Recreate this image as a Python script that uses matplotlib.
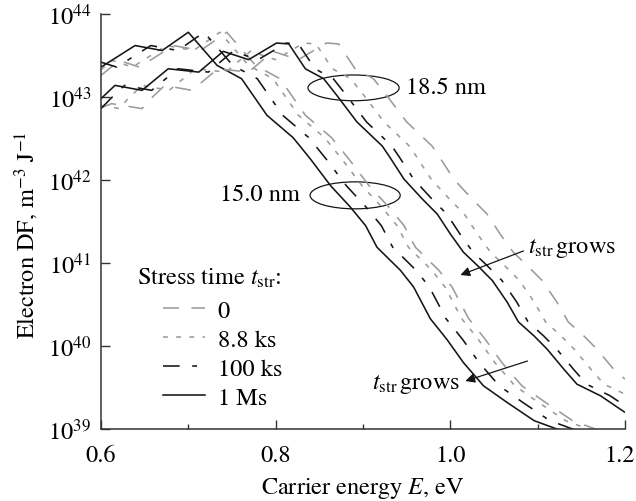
import numpy as np
import matplotlib
matplotlib.use("Agg")
import matplotlib.pyplot as plt
import matplotlib.transforms as mtrans
from matplotlib.patches import Ellipse
from matplotlib.lines import Line2D
from matplotlib.ticker import MultipleLocator, FixedLocator, FuncFormatter

plt.rcParams['font.family'] = ['STIXGeneral', 'DejaVu Serif']
plt.rcParams['mathtext.fontset'] = 'stix'
plt.rcParams['lines.scale_dashes'] = False

# ---------------- data: energy E (eV) and log10(DF) ----------------
# 15.0 nm group
e15_1Ms = [0.600, 0.639, 0.670, 0.700, 0.733, 0.761, 0.790, 0.820, 0.840, 0.863, 0.885, 0.903,
           0.916, 0.943, 0.958, 0.977, 0.996, 1.015, 1.038, 1.065, 1.096, 1.122, 1.140]
l15_1Ms = [43.36, 43.62, 43.56, 43.78, 43.38, 43.22, 42.78, 42.51, 42.25, 41.93, 41.68, 41.45,
           41.19, 40.91, 40.71, 40.33, 40.08, 39.80, 39.52, 39.32, 39.10, 39.00, 38.93]

e15_100ks = [0.600, 0.618, 0.657, 0.688, 0.718, 0.751, 0.779, 0.808, 0.838, 0.858, 0.881, 0.903,
             0.921, 0.934, 0.961, 0.976, 0.995, 1.014, 1.033, 1.056, 1.083, 1.114, 1.140, 1.158]
l15_100ks = [43.42, 43.36, 43.62, 43.56, 43.78, 43.38, 43.22, 42.78, 42.51, 42.25, 41.93, 41.68,
             41.45, 41.19, 40.91, 40.71, 40.33, 40.08, 39.80, 39.52, 39.32, 39.10, 39.00, 38.93]

e15_8ks = [0.600, 0.613, 0.636, 0.675, 0.706, 0.736, 0.769, 0.797, 0.826, 0.856, 0.876, 0.899,
           0.921, 0.939, 0.952, 0.979, 0.994, 1.013, 1.032, 1.051, 1.074, 1.101, 1.132, 1.158, 1.176]
l15_8ks = [43.33, 43.44, 43.36, 43.62, 43.56, 43.78, 43.38, 43.22, 42.78, 42.51, 42.25, 41.93,
           41.68, 41.45, 41.19, 40.91, 40.71, 40.33, 40.08, 39.80, 39.52, 39.32, 39.10, 39.00, 38.93]

e15_0 = [0.600, 0.621, 0.644, 0.683, 0.714, 0.744, 0.777, 0.805, 0.834, 0.864, 0.884, 0.907,
         0.929, 0.947, 0.960, 0.987, 1.002, 1.021, 1.040, 1.059, 1.082, 1.109, 1.140, 1.166, 1.184]
l15_0 = [43.26, 43.44, 43.36, 43.62, 43.56, 43.78, 43.38, 43.22, 42.78, 42.51, 42.25, 41.93,
         41.68, 41.45, 41.19, 40.91, 40.71, 40.33, 40.08, 39.80, 39.52, 39.32, 39.10, 39.00, 38.93]

# 18.5 nm group
e18_1Ms = [0.600, 0.616, 0.647, 0.677, 0.712, 0.740, 0.769, 0.801, 0.815, 0.834, 0.855, 0.870,
           0.893, 0.922, 0.931, 0.947, 0.968, 0.985, 1.000, 1.015, 1.031, 1.048, 1.065, 1.078,
           1.096, 1.111, 1.130, 1.145, 1.172, 1.200]
l18_1Ms = [42.98, 43.14, 43.08, 43.34, 43.30, 43.55, 43.45, 43.65, 43.64, 43.34, 43.22, 43.02,
           42.70, 42.41, 42.27, 42.01, 41.77, 41.59, 41.35, 41.13, 40.97, 40.79, 40.53, 40.29,
           40.12, 39.96, 39.72, 39.54, 39.40, 39.20]

e18_100ks = [0.600, 0.611, 0.627, 0.658, 0.688, 0.723, 0.751, 0.780, 0.812, 0.826, 0.845, 0.866,
             0.881, 0.904, 0.933, 0.942, 0.958, 0.979, 0.996, 1.011, 1.026, 1.042, 1.059, 1.076,
             1.089, 1.107, 1.122, 1.141, 1.156, 1.183, 1.200]
l18_100ks = [42.86, 42.98, 43.14, 43.08, 43.34, 43.30, 43.55, 43.45, 43.65, 43.64, 43.34, 43.22,
             43.02, 42.70, 42.41, 42.27, 42.01, 41.77, 41.59, 41.35, 41.13, 40.97, 40.79, 40.53,
             40.29, 40.12, 39.96, 39.72, 39.54, 39.40, 39.28]

e18_8ks = [0.600, 0.621, 0.631, 0.647, 0.678, 0.708, 0.743, 0.771, 0.800, 0.832, 0.846, 0.865,
           0.886, 0.901, 0.924, 0.953, 0.962, 0.978, 0.999, 1.016, 1.031, 1.046, 1.062, 1.079,
           1.096, 1.109, 1.127, 1.142, 1.161, 1.176, 1.200]
l18_8ks = [42.90, 42.86, 42.98, 43.14, 43.08, 43.34, 43.30, 43.55, 43.45, 43.65, 43.64, 43.34,
           43.22, 43.02, 42.70, 42.41, 42.27, 42.01, 41.77, 41.59, 41.35, 41.13, 40.97, 40.79,
           40.53, 40.29, 40.12, 39.96, 39.72, 39.54, 39.42]

e18_0 = [0.600, 0.612, 0.647, 0.657, 0.673, 0.704, 0.734, 0.769, 0.797, 0.826, 0.858, 0.872,
         0.891, 0.912, 0.927, 0.950, 0.979, 0.988, 1.004, 1.025, 1.042, 1.057, 1.072, 1.088,
         1.105, 1.122, 1.135, 1.153, 1.168, 1.187, 1.200]
l18_0 = [42.87, 42.92, 42.86, 42.98, 43.14, 43.08, 43.34, 43.30, 43.55, 43.45, 43.65, 43.64,
         43.34, 43.22, 43.02, 42.70, 42.41, 42.27, 42.01, 41.77, 41.59, 41.35, 41.13, 40.97,
         40.79, 40.53, 40.29, 40.12, 39.96, 39.72, 39.60]

legend_labels = ['0', '8.8 ks', '100 ks', '1 Ms']
x_ticks = [0.6, 0.8, 1.0, 1.2]
y_decades = [39, 40, 41, 42, 43, 44]

# ---------------- styles ----------------
GRAY = '#9b9b9b'
BLACK = '#151515'
LW = 1.15
styles = {
    '0': dict(color=GRAY, lw=LW, linestyle=(0, (11.5, 9))),
    '8.8 ks': dict(color=GRAY, lw=LW, linestyle=(0, (3.5, 6))),
    '100 ks': dict(color=BLACK, lw=LW, linestyle=(0, (12, 9, 3.5, 9))),
    '1 Ms': dict(color=BLACK, lw=LW, linestyle='-'),
}

fig = plt.figure(figsize=(6.36, 5.02), dpi=100)
ax = fig.add_axes([101/636, 1-430/502, 524/636, 415/502])

groups = [
    [(e15_0, l15_0), (e15_8ks, l15_8ks), (e15_100ks, l15_100ks), (e15_1Ms, l15_1Ms)],
    [(e18_0, l18_0), (e18_8ks, l18_8ks), (e18_100ks, l18_100ks), (e18_1Ms, l18_1Ms)],
]
for grp in groups:
    for lab, (e, l) in zip(legend_labels, grp):
        ax.plot(e, 10.0 ** np.array(l), **styles[lab], solid_capstyle='butt', dash_capstyle='butt')

ax.set_yscale('log')
ax.set_xlim(0.6, 1.2)
ax.set_ylim(1e39, 1e44)

for s in ['top', 'right']:
    ax.spines[s].set_visible(False)
for s in ['left', 'bottom']:
    ax.spines[s].set_linewidth(1.1)
    ax.spines[s].set_color('#333333')

ax.xaxis.set_major_locator(FixedLocator(x_ticks))
ax.xaxis.set_minor_locator(MultipleLocator(0.1))
ax.xaxis.set_major_formatter(FuncFormatter(lambda v, p: f'{v:.1f}'))
ax.yaxis.set_major_locator(FixedLocator([10.0 ** d for d in y_decades]))
ax.yaxis.set_minor_locator(FixedLocator([]))
ax.yaxis.set_major_formatter(FuncFormatter(lambda v, p: r'$10^{%d}$' % round(np.log10(v))))

ax.tick_params(axis='both', which='major', direction='in', length=6.5, width=1.0,
               color='#333333', labelsize=17.5)
ax.tick_params(axis='x', which='minor', direction='in', length=3.8, width=1.0, color='#333333')
ax.tick_params(axis='y', which='major', pad=7)
ax.tick_params(axis='x', which='major', pad=11)

# keep the last x tick label inside the figure
last = ax.get_xticklabels()[-1]
last.set_transform(last.get_transform() + mtrans.ScaledTranslation(-5/100, 0, fig.dpi_scale_trans))

ax.set_xlabel(r'Carrier energy $E$, eV', fontsize=17.5, labelpad=7)
ax.set_ylabel(r'Electron DF, m$^{-3}$ J$^{-1}$', fontsize=17.5)
ax.yaxis.set_label_coords(-0.115, 0.47)

# ellipses and group labels
ax.add_patch(Ellipse((0.482, 0.822), 0.174, 0.062, transform=ax.transAxes,
                     fill=False, lw=0.9, color=BLACK))
ax.add_patch(Ellipse((0.485, 0.563), 0.172, 0.065, transform=ax.transAxes,
                     fill=False, lw=0.9, color=BLACK))
ax.text(0.9496, 10 ** 43.12, '18.5 nm', fontsize=17.5, ha='left', va='center')
ax.text(0.828, 10 ** 41.83, '15.0 nm', fontsize=17.5, ha='right', va='center')

# arrows
arrow_kw = dict(arrowstyle='-|>', color=BLACK, lw=0.9, mutation_scale=14, shrinkA=0, shrinkB=0)
ax.annotate('', xy=(1.0115, 10 ** 40.855), xytext=(1.0837, 10 ** 41.145), arrowprops=arrow_kw)
ax.text(1.0894, 10 ** 41.19, r'$t_{\mathrm{str}}\,$grows', fontsize=17.5, ha='left', va='center')
ax.annotate('', xy=(1.0172, 10 ** 39.578), xytext=(1.0883, 10 ** 39.819), arrowprops=arrow_kw)
ax.text(1.0115, 10 ** 39.55, r'$t_{\mathrm{str}}\,$grows', fontsize=17.5, ha='right', va='center')

# legend
ax.text(0.069, 0.349, r'Stress time $t_{\mathrm{str}}$:', transform=ax.transAxes,
        fontsize=17.5, ha='left', va='baseline')
handles = [Line2D([], [], **styles[lab]) for lab in legend_labels]
ax.legend(handles, legend_labels, loc='upper left', bbox_to_anchor=(0.118, 0.312),
          frameon=False, fontsize=17.5, handlelength=1.75, handletextpad=0.5,
          labelspacing=0.29, borderpad=0, borderaxespad=0)

fig.savefig('out.png', dpi=100)
